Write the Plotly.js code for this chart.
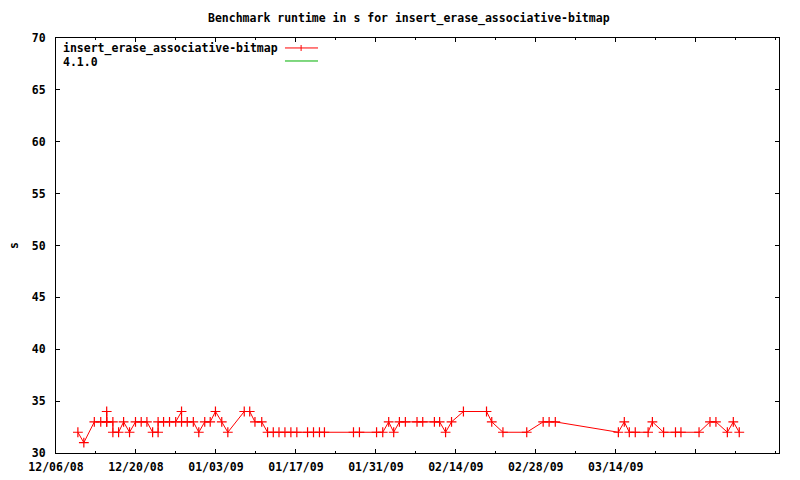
<!DOCTYPE html>
<html>
<head>
<meta charset="utf-8">
<script src="https://cdn.plot.ly/plotly-3.0.1.min.js"></script>
<style>html,body{margin:0;padding:0;background:#fff;}#chart{width:800px;height:480px;}</style>
</head>
<body>
<div id="chart"></div>
<script>
var chartTitle = "Benchmark runtime in s for insert_erase_associative-bitmap";
var seriesName = "insert_erase_associative-bitmap";
var releaseName = "4.1.0";
var yTitle = "s";

var runDates = [
  "2008-12-09 20:00","2008-12-10 21:00","2008-12-12 17:00","2008-12-13 20:00",
  "2008-12-14 21:00","2008-12-14 21:00","2008-12-14 21:00","2008-12-15 23:00","2008-12-15 23:00",
  "2008-12-16 23:00","2008-12-17 20:00","2008-12-18 21:00","2008-12-19 22:00","2008-12-20 22:00",
  "2008-12-21 22:00","2008-12-22 22:00","2008-12-23 21:00","2008-12-23 21:00","2008-12-24 20:00",
  "2008-12-25 21:00","2008-12-26 23:00","2008-12-27 23:30","2008-12-27 23:30","2008-12-28 23:30",
  "2008-12-30 01:00","2008-12-31 00:00","2009-01-01 01:00","2009-01-02 00:00","2009-01-02 22:00",
  "2009-01-04 00:30","2009-01-05 02:00","2009-01-07 23:00","2009-01-08 22:00","2009-01-09 20:00",
  "2009-01-11 00:30","2009-01-12 01:00","2009-01-13 01:00","2009-01-14 01:00","2009-01-15 02:00",
  "2009-01-16 03:00","2009-01-17 04:00","2009-01-19 01:00","2009-01-20 02:00","2009-01-21 03:00",
  "2009-01-22 00:00","2009-01-27 02:00","2009-01-28 03:00","2009-01-31 03:00","2009-02-01 05:00",
  "2009-02-02 06:00","2009-02-03 03:00","2009-02-04 03:00","2009-02-05 04:00","2009-02-07 05:00",
  "2009-02-08 05:00","2009-02-10 06:00","2009-02-11 04:00","2009-02-12 05:00","2009-02-13 06:00",
  "2009-02-15 08:00","2009-02-19 09:00","2009-02-20 07:00","2009-02-22 06:00","2009-02-26 10:00",
  "2009-03-01 07:00","2009-03-02 08:00","2009-03-03 10:00","2009-03-14 11:00","2009-03-15 12:00",
  "2009-03-16 09:00","2009-03-17 10:00","2009-03-19 16:00","2009-03-20 10:00","2009-03-22 09:00",
  "2009-03-24 11:00","2009-03-25 10:00","2009-03-28 14:00","2009-03-30 12:00","2009-03-31 13:00",
  "2009-04-02 13:00","2009-04-03 14:00","2009-04-04 15:00"
];
var runtimes = [
  32,31,33,33,
  33,34,33,33,32,
  32,33,32,33,33,
  33,32,32,33,33,
  33,33,34,33,33,
  33,32,33,33,34,
  33,32,34,34,33,
  33,32,32,32,32,
  32,32,32,32,32,
  32,32,32,32,32,
  33,32,33,33,33,
  33,33,33,32,33,
  34,34,33,32,32,
  33,33,33,32,33,
  32,32,32,33,32,
  32,32,32,33,33,
  32,33,32
];

var xTickVals = ["2008-12-06","2008-12-20","2009-01-03","2009-01-17","2009-01-31","2009-02-14","2009-02-28","2009-03-14","2009-03-28"];
var xTickText = ["12/06/08","12/20/08","01/03/09","01/17/09","01/31/09","02/14/09","02/28/09","03/14/09",""];
var xRange = ["2008-12-06 00:00","2009-04-11 14:00"];
var yRange = [30, 70];

var FONT = "DejaVu Sans Mono, monospace";
var RED = "#ff0000";
var GREEN = "#00b000";

var trace = {
  x: runDates, y: runtimes, type: "scatter", mode: "lines+markers",
  name: seriesName,
  line: {color: RED, width: 1},
  marker: {symbol: "cross-thin-open", size: 7, color: RED, line: {color: RED, width: 1.2}},
  showlegend: false, cliponaxis: false
};

var layout = {
  width: 800, height: 480,
  margin: {l: 56, r: 21, t: 38, b: 27, pad: 0},
  paper_bgcolor: "#fff", plot_bgcolor: "#fff",
  font: {family: FONT, size: 11.5, color: "#000", weight: "bold"},
  title: {text: chartTitle, font: {family: FONT, size: 11.5, color: "#000", weight: "bold"},
          x: 0.511, xref: "container", xanchor: "center", y: 0.962, yref: "container", yanchor: "middle"},
  xaxis: {
    type: "date", range: xRange, showgrid: false, zeroline: false,
    showline: true, linecolor: "#000", linewidth: 1, mirror: "allticks",
    ticks: "inside", ticklen: 4, tickcolor: "#000", tickwidth: 1,
    tickmode: "array", tickvals: xTickVals, ticktext: xTickText,
    ticklabelstandoff: 3,
    tickfont: {family: FONT, size: 11.5, color: "#000", weight: "bold"},
    minor: {dtick: 7 * 86400000, tick0: "2008-12-06", ticks: "inside", ticklen: 2, tickcolor: "#000", showgrid: false}
  },
  yaxis: {
    range: yRange, showgrid: false, zeroline: false,
    showline: true, linecolor: "#000", linewidth: 1, mirror: "allticks",
    ticks: "inside", ticklen: 4, tickcolor: "#000", tickwidth: 1,
    tickmode: "linear", tick0: 30, dtick: 5,
    ticklabelstandoff: 7,
    tickfont: {family: FONT, size: 11.5, color: "#000", weight: "bold"},
    title: {text: yTitle, font: {family: FONT, size: 11.5, color: "#000", weight: "bold"}, standoff: 10}
  },
  annotations: [
    {text: seriesName, xref: "paper", yref: "paper", x: 0.0069, y: 0.974, xanchor: "left", yanchor: "middle", showarrow: false,
     font: {family: FONT, size: 11.5, color: "#000", weight: "bold"}},
    {text: releaseName, xref: "paper", yref: "paper", x: 0.0069, y: 0.9426, xanchor: "left", yanchor: "middle", showarrow: false,
     font: {family: FONT, size: 11.5, color: "#000", weight: "bold"}}
  ],
  shapes: [
    {type: "line", xref: "paper", yref: "paper", x0: 0.3167, x1: 0.3624, y0: 0.976, y1: 0.976, line: {color: RED, width: 1}},
    {type: "line", xref: "paper", yref: "paper", x0: 0.339, x1: 0.339, y0: 0.9687, y1: 0.9831, line: {color: RED, width: 1}},
    {type: "line", xref: "paper", yref: "paper", x0: 0.3167, x1: 0.3624, y0: 0.9446, y1: 0.9446, line: {color: GREEN, width: 1}}
  ],
  showlegend: false
};

Plotly.newPlot("chart", [trace], layout, {displayModeBar: false, staticPlot: true});
</script>
</body>
</html>
